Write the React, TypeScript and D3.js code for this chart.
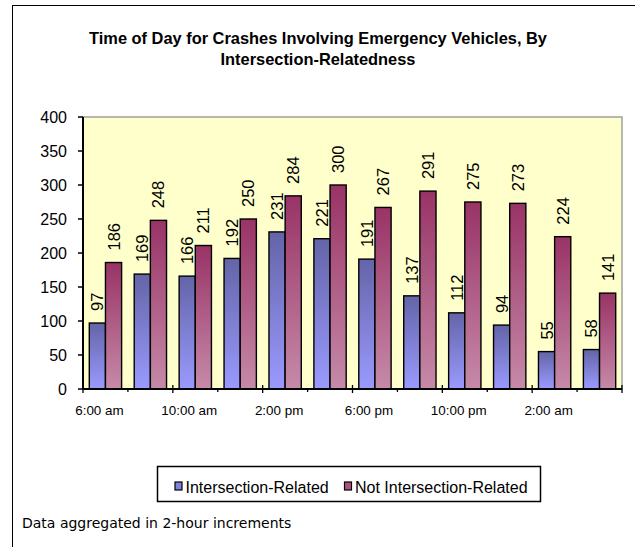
import * as d3 from "d3";

const categories = [
  "6:00 am", "8:00 am", "10:00 am", "12:00 pm", "2:00 pm", "4:00 pm",
  "6:00 pm", "8:00 pm", "10:00 pm", "12:00 am", "2:00 am", "4:00 am",
];
const seriesNames = ["Intersection-Related", "Not Intersection-Related"];
const intersectionRelated = [97, 169, 166, 192, 231, 221, 191, 137, 112, 94, 55, 58];
const notIntersectionRelated = [186, 248, 211, 250, 284, 300, 267, 291, 275, 273, 224, 141];
const yTicks = [0, 50, 100, 150, 200, 250, 300, 350, 400];
const shownLabels = ["6:00 am", "10:00 am", "2:00 pm", "6:00 pm", "10:00 pm", "2:00 am"];

const W = 635;
const H = 547;
const plot = { left: 83, right: 622, top: 117, bottom: 389 };
const font = "'Liberation Sans', Arial, sans-serif";

export default function App() {
  const x = d3.scaleBand<string>().domain(categories).range([plot.left, plot.right]).padding(0);
  const inner = d3
    .scaleBand<string>()
    .domain(seriesNames)
    .range([0, x.bandwidth()])
    .paddingInner(0)
    .paddingOuter(0.39);
  const y = d3.scaleLinear().domain([0, 400]).range([plot.bottom, plot.top]);

  const series = [
    { name: seriesNames[0], values: intersectionRelated, fill: "url(#gBlue)", key: "#8080e0" },
    { name: seriesNames[1], values: notIntersectionRelated, fill: "url(#gRed)", key: "#b05080" },
  ];

  // category boundaries for the x ticks
  const bounds = d3.range(categories.length + 1).map((i) => plot.left + i * x.step());

  return (
    <svg
      width={W}
      height={H}
      style={{ position: "absolute", left: 0, top: 0, background: "#fff" }}
    >
      <defs>
        <linearGradient id="gBlue" x1="0" y1="0" x2="0" y2="1">
          <stop offset="0" stopColor="#6464a8" />
          <stop offset="1" stopColor="#9a9aff" />
        </linearGradient>
        <linearGradient id="gRed" x1="0" y1="0" x2="0" y2="1">
          <stop offset="0" stopColor="#993366" />
          <stop offset="1" stopColor="#c68aa8" />
        </linearGradient>
      </defs>

      {/* chart area frame (clipped on the right and bottom) */}
      <rect x={12.5} y={5.5} width={700} height={700} fill="#fff" stroke="#000" strokeWidth={1} />

      <text x={318} y={44} textAnchor="middle" fontFamily={font} fontWeight="bold" fontSize={16.4}>
        Time of Day for Crashes Involving Emergency Vehicles, By
      </text>
      <text x={318} y={65} textAnchor="middle" fontFamily={font} fontWeight="bold" fontSize={16.4}>
        Intersection-Relatedness
      </text>

      {/* plot area */}
      <rect
        x={plot.left}
        y={plot.top}
        width={plot.right - plot.left}
        height={plot.bottom - plot.top}
        fill="#ffffcc"
        stroke="#a0a0a0"
        strokeWidth={1.5}
      />

      {/* bars */}
      {categories.map((c, i) => (
        <g key={c} transform={`translate(${x(c)},0)`}>
          {series.map((s) => {
            const v = s.values[i];
            const bx = inner(s.name)!;
            const bw = inner.bandwidth();
            return (
              <g key={s.name}>
                <rect
                  x={bx}
                  y={y(v)}
                  width={bw}
                  height={y(0) - y(v)}
                  fill={s.fill}
                  stroke="#000"
                  strokeWidth={1.4}
                />
                <text
                  transform={`translate(${bx + bw / 2},${y(v) - 12}) rotate(-90)`}
                  textAnchor="start"
                  dominantBaseline="central"
                  fontFamily={font}
                  fontSize={16.5}
                >
                  {v}
                </text>
              </g>
            );
          })}
        </g>
      ))}

      {/* y axis */}
      <line x1={plot.left} x2={plot.left} y1={plot.top} y2={plot.bottom} stroke="#000" strokeWidth={2} />
      {yTicks.map((t) => (
        <g key={t}>
          <line x1={plot.left - 5} x2={plot.left} y1={y(t)} y2={y(t)} stroke="#000" strokeWidth={1.5} />
          <text
            x={plot.left - 16}
            y={y(t)}
            dy="0.36em"
            textAnchor="end"
            fontFamily={font}
            fontSize={16}
          >
            {t}
          </text>
        </g>
      ))}

      {/* x axis */}
      <line x1={plot.left} x2={plot.right} y1={plot.bottom} y2={plot.bottom} stroke="#000" strokeWidth={2} />
      {bounds.map((bx, i) =>
        i % 2 === 0 ? (
          <line key={i} x1={bx} x2={bx} y1={plot.bottom - 4} y2={plot.bottom + 4} stroke="#000" strokeWidth={1.3} />
        ) : (
          <line key={i} x1={bx} x2={bx} y1={plot.bottom} y2={plot.bottom + 3} stroke="#000" strokeWidth={1.3} />
        )
      )}
      {shownLabels.map((c) => (
        <text
          key={c}
          x={x(c)! + x.bandwidth() / 2 - 6}
          y={415}
          textAnchor="middle"
          fontFamily={font}
          fontSize={13.4}
        >
          {c}
        </text>
      ))}

      {/* legend */}
      <rect x={157.5} y={466.5} width={383} height={35} fill="#fff" stroke="#000" strokeWidth={1.5} />
      {series.map((s, i) => {
        const lx = i === 0 ? 175 : 344.5;
        return (
          <g key={s.name}>
            <rect x={lx} y={482} width={7} height={8} fill={s.key} stroke="#000" strokeWidth={1.2} />
            <text x={lx + 10.5} y={493} fontFamily={font} fontSize={16}>
              {s.name}
            </text>
          </g>
        );
      })}

      <text x={22} y={528} fontFamily="'DejaVu Sans', sans-serif" fontSize={14}>
        Data aggregated in 2-hour increments
      </text>
    </svg>
  );
}
